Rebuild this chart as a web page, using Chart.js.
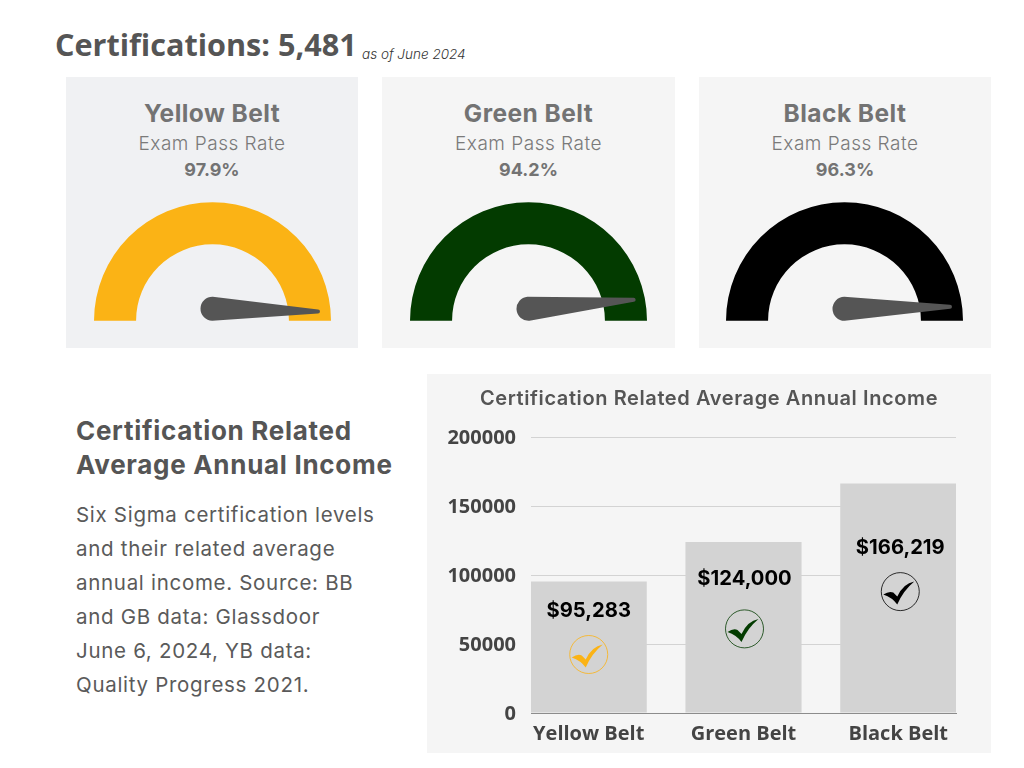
<!DOCTYPE html>
<html>
<head>
<meta charset="utf-8">
<script src="https://cdn.jsdelivr.net/npm/chart.js@4"></script>
<style>
  html, body { margin: 0; padding: 0; background: #fff; }
  body { position: relative; width: 1024px; height: 768px; overflow: hidden; font-family: Inter, sans-serif; }
  canvas { display: block; }
  .abs { position: absolute; white-space: nowrap; }
  .panel { position: absolute; }
  .gauge-head { position: absolute; top: 20px; left: 0; width: 100%; text-align: center; color: #737373; }
  .gauge-head div { white-space: nowrap; }
  .belt { font-size: 24.5px; font-weight: 700; line-height: 32px; letter-spacing: 0.45px; }
  .sub { font-size: 19px; font-weight: 300; line-height: 30px; color: #7a7a7a; letter-spacing: 0.5px; }
  .rate { font-size: 18px; font-weight: 700; line-height: 22px; }
  .gauge-wrap { position: absolute; top: 125px; width: 237px; height: 119px; }
  #heading { left: 55px; top: 24px; font: 700 30.6px "Open Sans", sans-serif; color: #555; line-height: 40px; }
  #asof { left: 362px; top: 45px; font-size: 13.5px; font-style: italic; font-weight: 300; color: #333; line-height: 18px; }
  #side-title { left: 76px; top: 414px; font-size: 26px; font-weight: 700; line-height: 34px; color: #555; letter-spacing: 0.7px; }
  #side-text { left: 76px; top: 498px; font-size: 20.5px; font-weight: 400; line-height: 34px; color: #5a5a5a; letter-spacing: 0.7px; }
  #income-title { left: 0; width: 564px; top: 12px; text-align: center; font-size: 20px; font-weight: 600; line-height: 24px; color: #555; letter-spacing: 0.6px; }
</style>
</head>
<body>
<div class="abs" id="heading">Certifications: 5,481</div>
<div class="abs" id="asof">as of June 2024</div>

<div class="panel" style="left:66px;top:77px;width:292px;height:271px;background:#f0f1f3">
  <div class="gauge-head"><div class="belt">Yellow Belt</div><div class="sub">Exam Pass Rate</div><div class="rate" id="rate0"></div></div>
  <div class="gauge-wrap" style="left:28px"><canvas id="gauge0" width="237" height="119"></canvas></div>
</div>
<div class="panel" style="left:382px;top:77px;width:293px;height:271px;background:#f5f5f5">
  <div class="gauge-head"><div class="belt">Green Belt</div><div class="sub">Exam Pass Rate</div><div class="rate" id="rate1"></div></div>
  <div class="gauge-wrap" style="left:28px"><canvas id="gauge1" width="237" height="119"></canvas></div>
</div>
<div class="panel" style="left:699px;top:77px;width:292px;height:271px;background:#f5f5f5">
  <div class="gauge-head"><div class="belt">Black Belt</div><div class="sub">Exam Pass Rate</div><div class="rate" id="rate2"></div></div>
  <div class="gauge-wrap" style="left:27px"><canvas id="gauge2" width="237" height="119"></canvas></div>
</div>

<div class="abs" id="side-title">Certification Related<br>Average Annual Income</div>
<div class="abs" id="side-text">Six Sigma certification levels<br>and their related average<br>annual income. Source: BB<br>and GB data: Glassdoor<br>June 6, 2024, YB data:<br>Quality Progress 2021.</div>

<div class="panel" style="left:427px;top:374px;width:564px;height:379px;background:#f5f5f5">
  <canvas id="incomeChart" width="564" height="379"></canvas>
  <div class="abs" id="income-title">Certification Related Average Annual Income</div>
</div>

<script>
const belts = ['Yellow Belt', 'Green Belt', 'Black Belt'];
const passRates = [97.9, 94.2, 96.3];
// where the needle actually points in the picture, % of the half circle
const needleReadings = [100.8, 97.3, 99.4];
const income = [95283, 124000, 166219];
const incomeTicks = [0, 50000, 100000, 150000, 200000];

const beltColors = ['#fbb315', '#033b00', '#000000'];

const needlePlugin = {
  id: 'needle',
  afterDatasetsDraw(chart) {
    const arc = chart.getDatasetMeta(0).data[0];
    const reading = chart.options.plugins.needle.reading;
    const a = Math.PI + (reading / 100) * Math.PI;
    const px = arc.x;
    const py = arc.y - 12;
    const len = arc.outerRadius - 13;
    const hub = 12, tip = 2;
    const nx = -Math.sin(a), ny = Math.cos(a);
    const tx = px + Math.cos(a) * len, ty = py + Math.sin(a) * len;
    const c = chart.ctx;
    c.save();
    c.fillStyle = '#555555';
    c.beginPath();
    c.arc(px, py, hub, a + Math.PI / 2, a - Math.PI / 2);
    c.lineTo(tx - nx * tip, ty - ny * tip);
    c.arc(tx, ty, tip, a - Math.PI / 2, a + Math.PI / 2);
    c.closePath();
    c.fill();
    c.restore();
  }
};

belts.forEach(function (name, i) {
  document.getElementById('rate' + i).textContent = passRates[i].toFixed(1) + '%';
  // the band is one solid colour in the picture, only the needle moves
  new Chart(document.getElementById('gauge' + i), {
    type: 'doughnut',
    data: {
      labels: [name],
      datasets: [{
        data: [100],
        backgroundColor: beltColors[i],
        borderWidth: 0
      }]
    },
    plugins: [needlePlugin],
    options: {
      responsive: false,
      animation: false,
      rotation: -90,
      circumference: 180,
      cutout: '64.5%',
      radius: '100%',
      layout: { padding: 0 },
      plugins: {
        legend: { display: false },
        tooltip: { enabled: false },
        needle: { reading: needleReadings[i] }
      }
    }
  });
});

// check badge and value text inside each bar
const barNotes = {
  id: 'barNotes',
  afterDatasetsDraw(chart, args, opts) {
    const c = chart.ctx;
    chart.getDatasetMeta(0).data.forEach(function (bar, i) {
      const cx = bar.x + opts.shift[i];
      c.save();
      c.fillStyle = '#000';
      c.font = '700 20.2px Inter, sans-serif';
      c.textAlign = 'center';
      c.textBaseline = 'middle';
      c.fillText('$' + income[i].toLocaleString('en-US'), cx, bar.y + opts.labelDrop[i]);

      const cy = bar.y + opts.iconDrop[i];
      c.strokeStyle = beltColors[i];
      c.lineWidth = 0.8;
      c.beginPath();
      c.arc(cx, cy, 19, 0, Math.PI * 2);
      c.stroke();
      c.fillStyle = beltColors[i];
      c.beginPath();
      c.moveTo(cx - 17, cy + 3);
      c.quadraticCurveTo(cx - 11, cy - 1, cx - 7, cy + 1);
      c.lineTo(cx - 3, cy + 5);
      c.quadraticCurveTo(cx + 3, cy - 8, cx + 14, cy - 10);
      c.quadraticCurveTo(cx + 3, cy - 1, cx - 3, cy + 13);
      c.quadraticCurveTo(cx - 8, cy + 6, cx - 17, cy + 3);
      c.closePath();
      c.fill();
      c.restore();
    });
  }
};

new Chart(document.getElementById('incomeChart'), {
  type: 'bar',
  data: {
    datasets: [{
      data: income.map(function (v, i) { return { x: i, y: v }; }),
      backgroundColor: '#d3d3d3',
      borderWidth: 0,
      barPercentage: 1,
      categoryPercentage: 0.75
    }]
  },
  plugins: [barNotes],
  options: {
    responsive: false,
    animation: false,
    layout: { padding: { left: 0, right: 35, top: 63, bottom: 0 } },
    plugins: {
      legend: { display: false },
      tooltip: { enabled: false },
      barNotes: {
        shift: [0, 1, 2],
        labelDrop: [29, 37, 64],
        iconDrop: [73, 87, 108]
      }
    },
    scales: {
      x: {
        type: 'linear',
        offset: false,
        min: -0.373,
        max: 2.373,
        afterBuildTicks(scale) {
          scale.ticks = belts.map(function (b, i) { return { value: i }; });
        },
        afterFit(scale) { scale.height = 40; },
        grid: { display: false, drawTicks: false, offset: false },
        border: { display: true, color: '#8c8c8c', width: 1 },
        ticks: {
          autoSkip: false,
          maxRotation: 0,
          padding: 9,
          color: '#444',
          font: { family: 'Open Sans', size: 20, weight: '700' },
          callback(v) { return belts[v]; }
        }
      },
      y: {
        min: 0,
        max: 200000,
        afterBuildTicks(scale) {
          scale.ticks = incomeTicks.map(function (v) { return { value: v }; });
        },
        afterFit(scale) { scale.width = 104; },
        grid: { color: '#d3d3d3', lineWidth: 1, drawTicks: false },
        border: { display: false },
        ticks: {
          padding: 15,
          labelOffset: 1.5,
          color: '#444',
          font: { family: 'Open Sans', size: 20, weight: '700' },
          callback(v) { return String(v); }
        }
      }
    }
  }
});
</script>
</body>
</html>
